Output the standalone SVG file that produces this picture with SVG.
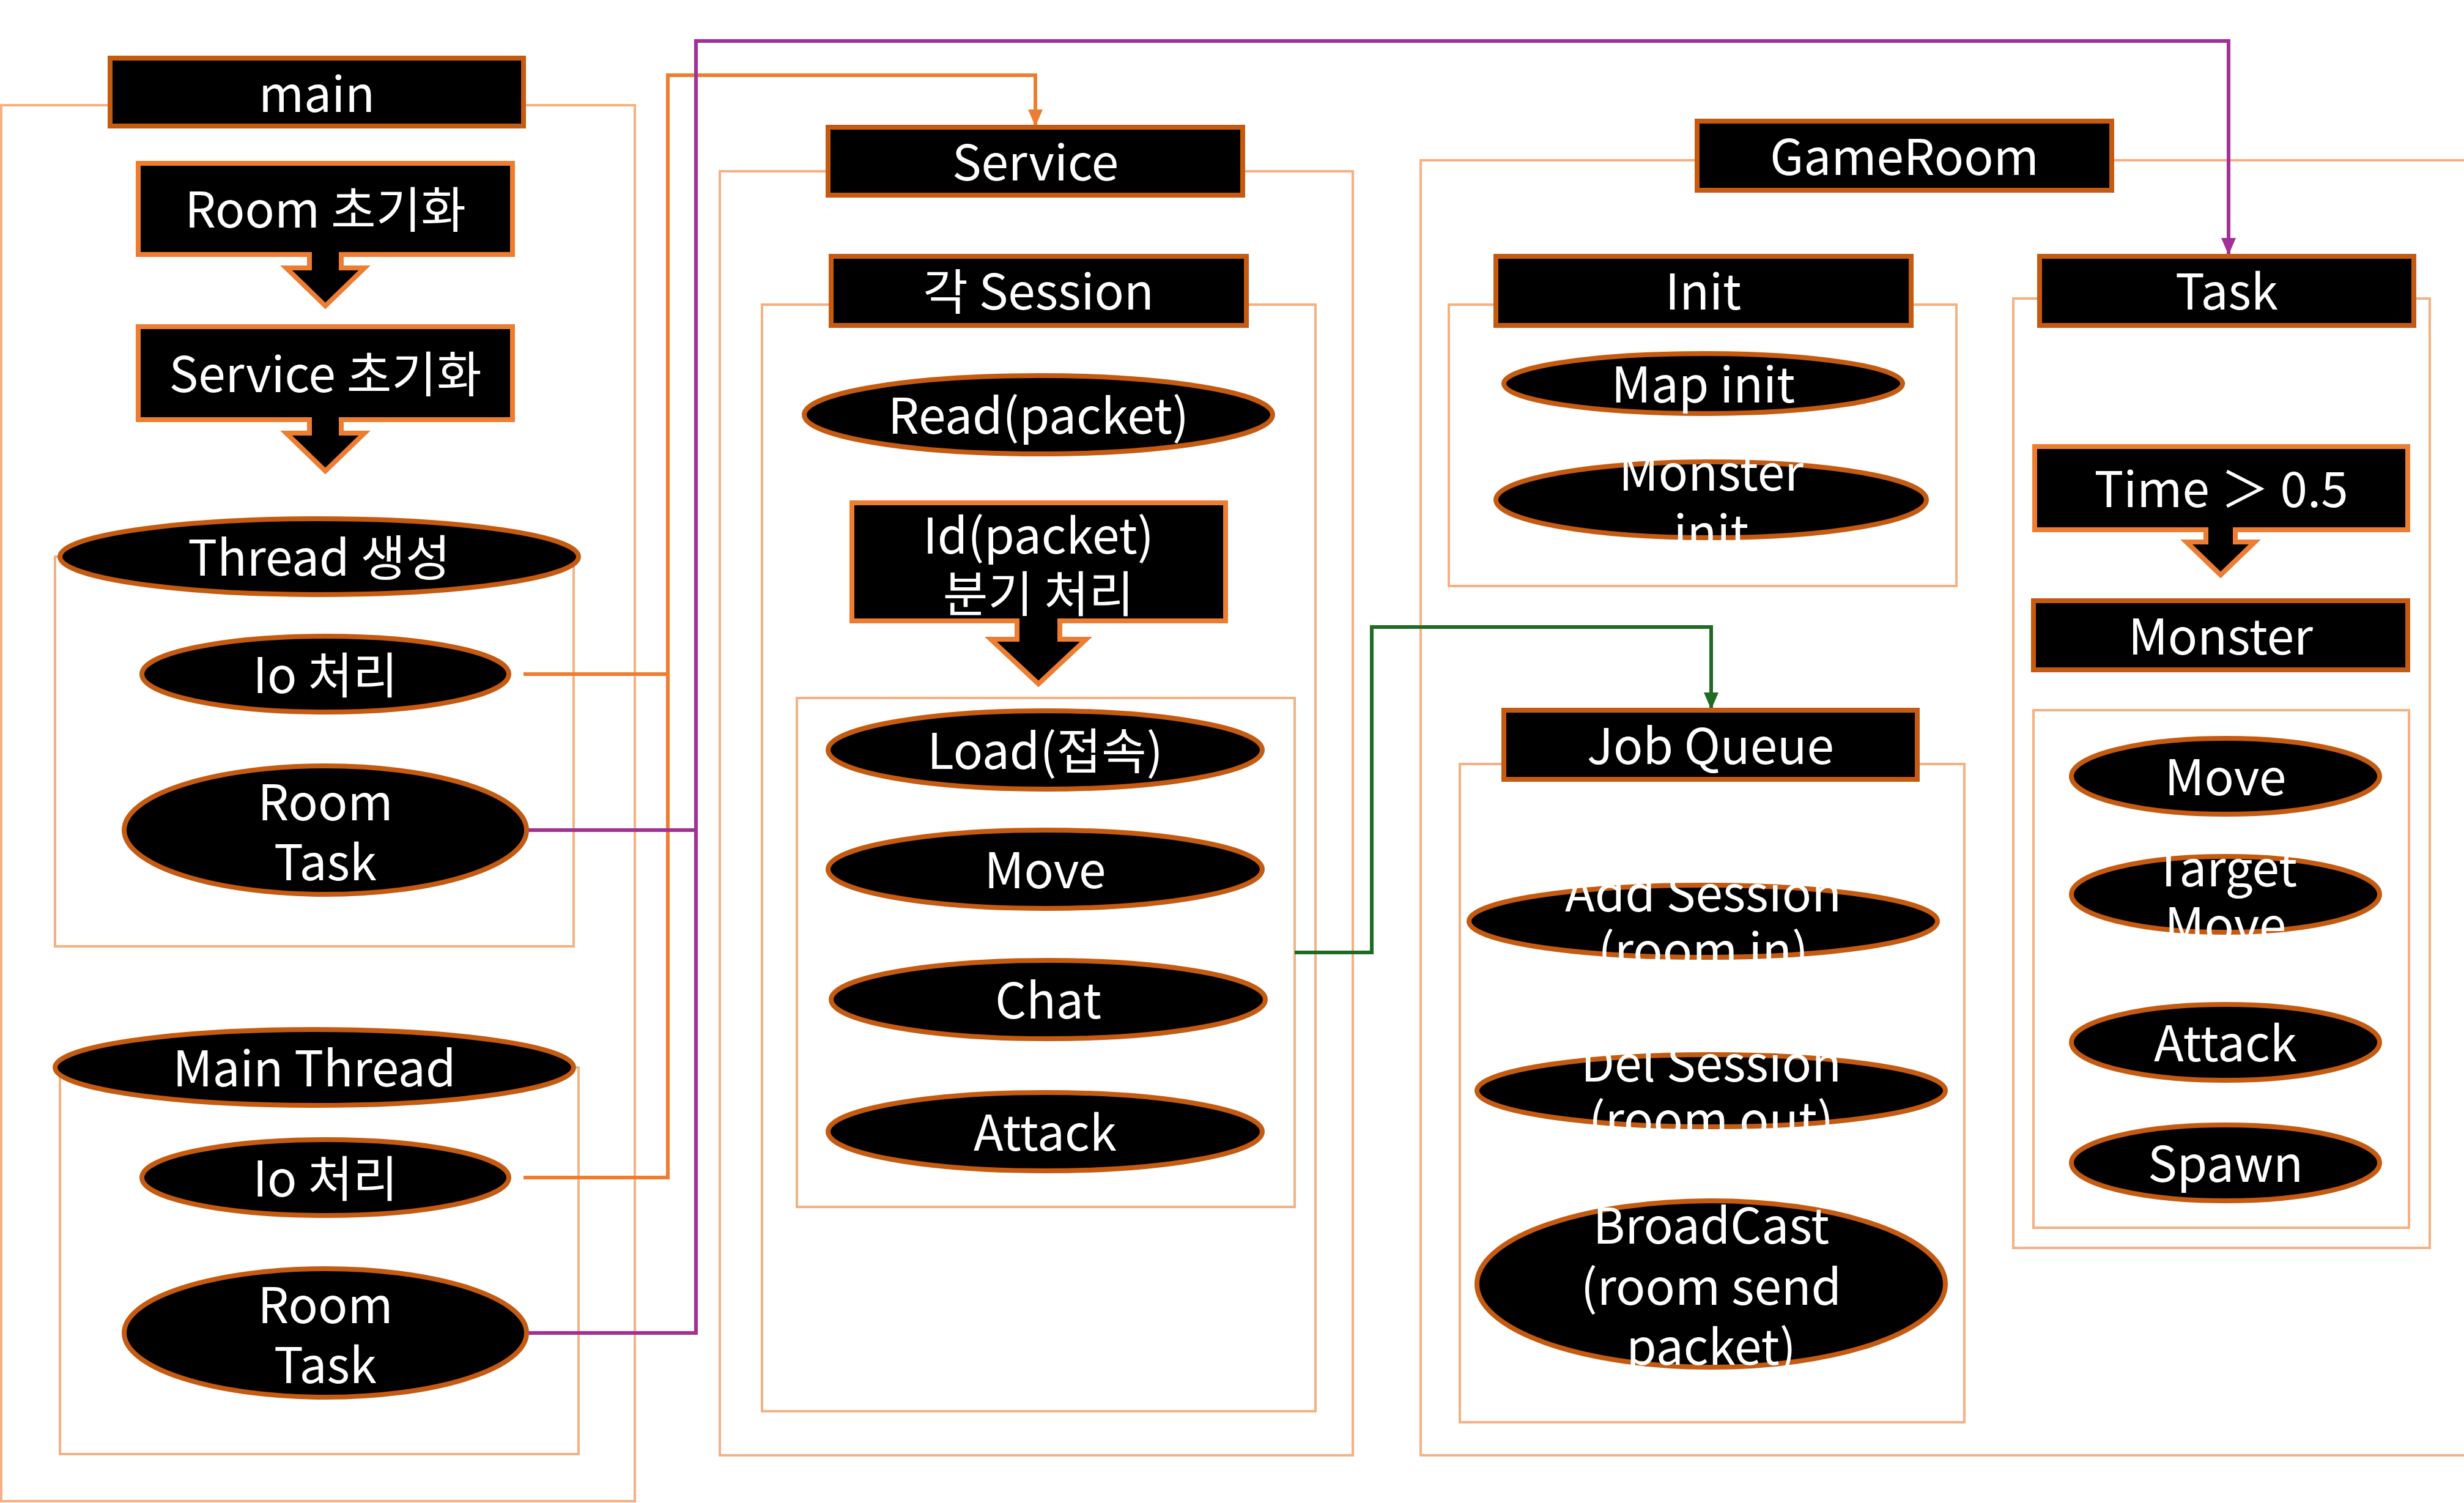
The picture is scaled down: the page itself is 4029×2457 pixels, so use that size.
<svg xmlns="http://www.w3.org/2000/svg" width="4029" height="2457" viewBox="0 0 4029 2457">
<defs>
<style>
.cont{fill:none;stroke:#F4B183;stroke-width:4}
.hdr{fill:#000;stroke:#C55A11;stroke-width:8}
.box{fill:#000;stroke:#ED7D31;stroke-width:8}
.ell{fill:#000;stroke:#C55A11;stroke-width:8}
.t{fill:#fff;font-family:"Noto Sans CJK KR","Noto Sans",sans-serif;font-size:80px;text-anchor:middle;dominant-baseline:central}
.c-or{fill:none;stroke:#ED7D31;stroke-width:6}
.c-pu{fill:none;stroke:#A33097;stroke-width:6}
.c-gr{fill:none;stroke:#1E6B24;stroke-width:6}
</style>
<marker id="aor" markerWidth="28" markerHeight="24" refX="27" refY="12" orient="auto" markerUnits="userSpaceOnUse" viewBox="0 0 28 24"><path d="M0,0 L28,12 L0,24 Z" fill="#ED7D31"/></marker>
<marker id="apu" markerWidth="28" markerHeight="24" refX="27" refY="12" orient="auto" markerUnits="userSpaceOnUse" viewBox="0 0 28 24"><path d="M0,0 L28,12 L0,24 Z" fill="#A33097"/></marker>
<marker id="agr" markerWidth="28" markerHeight="24" refX="27" refY="12" orient="auto" markerUnits="userSpaceOnUse" viewBox="0 0 28 24"><path d="M0,0 L28,12 L0,24 Z" fill="#1E6B24"/></marker>
</defs>
<rect width="4029" height="2457" fill="#fff"/>

<g id="containers">
<rect class="cont" x="2" y="172" width="1036" height="2282"/>
<rect class="cont" x="90" y="910" width="848" height="637"/>
<rect class="cont" x="98" y="1745" width="848" height="632"/>
<rect class="cont" x="1177" y="280" width="1035" height="2099"/>
<rect class="cont" x="1246" y="498" width="905" height="1809"/>
<rect class="cont" x="1303" y="1141" width="814" height="832"/>
<rect class="cont" x="2323" y="262" width="1710" height="2117"/>
<rect class="cont" x="2369" y="498" width="830" height="460"/>
<rect class="cont" x="2387" y="1249" width="825" height="1076"/>
<rect class="cont" x="3292" y="488" width="681" height="1552"/>
<rect class="cont" x="3325" y="1161" width="614" height="846"/>
</g>

<g id="connectors">
<path class="c-or" d="M856,1102 H1092 V123 H1693 V206" marker-end="url(#aor)"/>
<path class="c-or" d="M856,1925 H1092 V1102"/>
<path class="c-pu" d="M861,1357 H1138 V67 H3644 V416" marker-end="url(#apu)"/>
<path class="c-pu" d="M861,2179 H1138 V1357"/>
<path class="c-gr" d="M2117,1557 H2243 V1025 H2798 V1159" marker-end="url(#agr)"/>
</g>

<g id="main"><rect class="hdr" x="180" y="95" width="676" height="111"/><text class="t" x="518" y="148">main</text></g>
<g id="room-init"><path class="box" d="M226,267 H838 V416 H558 V438 H596 L532,500 L468,438 H506 V416 H226 Z"/><text class="t" x="532" y="337">Room 초기화</text></g>
<g id="service-init"><path class="box" d="M226,534 H838 V686 H558 V708 H596 L532,770 L468,708 H506 V686 H226 Z"/><text class="t" x="532" y="606">Service 초기화</text></g>
<g id="thread-create"><ellipse class="ell" cx="522" cy="910" rx="424" ry="62"/><text class="t" x="522" y="906">Thread 생성</text></g>
<g id="io1"><ellipse class="ell" cx="532" cy="1102" rx="300" ry="62"/><text class="t" x="532" y="1098">Io 처리</text></g>
<g id="roomtask1"><ellipse class="ell" cx="532" cy="1357" rx="329" ry="105"/><text class="t" x="532" y="1306">Room</text><text class="t" x="532" y="1404">Task</text></g>
<g id="main-thread"><ellipse class="ell" cx="514" cy="1745" rx="424" ry="62"/><text class="t" x="514" y="1741">Main Thread</text></g>
<g id="io2"><ellipse class="ell" cx="532" cy="1925" rx="300" ry="62"/><text class="t" x="532" y="1921">Io 처리</text></g>
<g id="roomtask2"><ellipse class="ell" cx="532" cy="2179" rx="329" ry="105"/><text class="t" x="532" y="2128">Room</text><text class="t" x="532" y="2226">Task</text></g>

<g id="service"><rect class="hdr" x="1354" y="208" width="678" height="111"/><text class="t" x="1693" y="260">Service</text></g>
<g id="session"><rect class="hdr" x="1359" y="419" width="679" height="113"/><text class="t" x="1698" y="471">각 Session</text></g>
<g id="read"><ellipse class="ell" cx="1698" cy="678" rx="383" ry="64"/><text class="t" x="1698" y="674">Read(packet)</text></g>
<g id="idpacket"><path class="box" d="M1393,822 H2004 V1015 H1733 V1045 H1776 L1698,1118 L1620,1045 H1663 V1015 H1393 Z"/><text class="t" x="1698" y="870">Id(packet)</text><text class="t" x="1698" y="965">분기 처리</text></g>
<g id="load"><ellipse class="ell" cx="1709" cy="1226" rx="355" ry="64"/><text class="t" x="1709" y="1222">Load(접속)</text></g>
<g id="move"><ellipse class="ell" cx="1709" cy="1421" rx="355" ry="64"/><text class="t" x="1709" y="1417">Move</text></g>
<g id="chat"><ellipse class="ell" cx="1714" cy="1634" rx="355" ry="64"/><text class="t" x="1714" y="1630">Chat</text></g>
<g id="attack"><ellipse class="ell" cx="1709" cy="1850" rx="355" ry="64"/><text class="t" x="1709" y="1846">Attack</text></g>

<g id="gameroom"><rect class="hdr" x="2775" y="198" width="678" height="113"/><text class="t" x="3114" y="251">GameRoom</text></g>
<g id="init"><rect class="hdr" x="2446" y="419" width="679" height="113"/><text class="t" x="2785" y="471">Init</text></g>
<g id="mapinit"><ellipse class="ell" cx="2785" cy="627" rx="326" ry="49"/><text class="t" x="2785" y="623">Map init</text></g>
<g id="monsterinit"><ellipse class="ell" cx="2798" cy="817" rx="352" ry="62"/><text class="t" x="2798" y="767">Monster</text><text class="t" x="2798" y="865">init</text></g>
<g id="jobqueue"><rect class="hdr" x="2459" y="1161" width="676" height="113"/><text class="t" x="2797" y="1214">Job Queue</text></g>
<g id="addsession"><ellipse class="ell" cx="2785" cy="1506" rx="383" ry="59"/><text class="t" x="2785" y="1455">Add Session</text><text class="t" x="2785" y="1548">(room in)</text></g>
<g id="delsession"><ellipse class="ell" cx="2798" cy="1783" rx="383" ry="59"/><text class="t" x="2798" y="1733">Del Session</text><text class="t" x="2798" y="1825">(room out)</text></g>
<g id="broadcast"><ellipse class="ell" cx="2798" cy="2099" rx="383" ry="136"/><text class="t" x="2798" y="1998">BroadCast</text><text class="t" x="2798" y="2098">(room send</text><text class="t" x="2798" y="2196">packet)</text></g>

<g id="task"><rect class="hdr" x="3335" y="419" width="612" height="113"/><text class="t" x="3641" y="471">Task</text></g>
<g id="time"><path class="box" d="M3327,730 H3937 V866 H3655 V886 H3687 L3631,940 L3575,886 H3607 V866 H3327 Z"/><text class="t" x="3632" y="794">Time ＞ 0.5</text></g>
<g id="monster"><rect class="hdr" x="3325" y="982" width="612" height="113"/><text class="t" x="3631" y="1035">Monster</text></g>
<g id="m-move"><ellipse class="ell" cx="3639" cy="1269" rx="252" ry="62"/><text class="t" x="3639" y="1265">Move</text></g>
<g id="m-target"><ellipse class="ell" cx="3639" cy="1462" rx="252" ry="62"/><text class="t" x="3639" y="1414">Target</text><text class="t" x="3639" y="1507">Move</text></g>
<g id="m-attack"><ellipse class="ell" cx="3639" cy="1704" rx="252" ry="62"/><text class="t" x="3639" y="1700">Attack</text></g>
<g id="m-spawn"><ellipse class="ell" cx="3639" cy="1901" rx="252" ry="62"/><text class="t" x="3639" y="1897">Spawn</text></g>
</svg>
